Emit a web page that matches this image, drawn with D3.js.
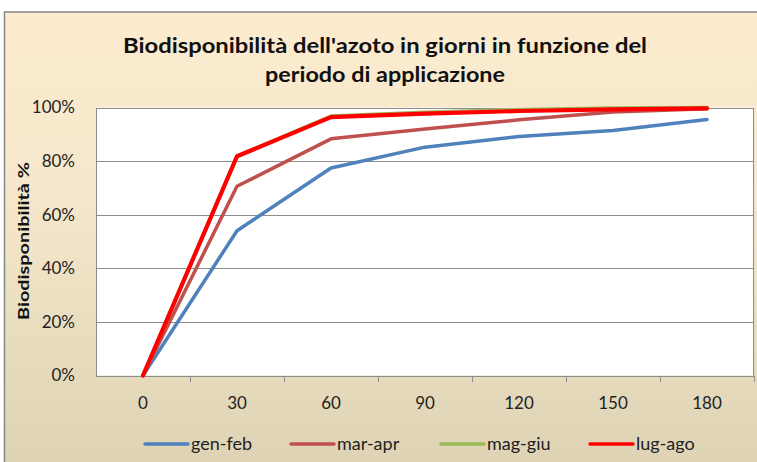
<!DOCTYPE html>
<html><head><meta charset="utf-8">
<script src="https://cdn.jsdelivr.net/npm/d3@7"></script>
<style>body{margin:0;background:#fff}svg{display:block}</style>
</head><body>
<script>
const categories = ["0","30","60","90","120","150","180"];
const genFeb = [0, 54, 77.4, 85.2, 89.2, 91.4, 95.5];
const marApr = [0, 70.6, 88.3, 92, 95.4, 98.3, 99.5];
const magGiu = [0, 81.8, 96.8, 98.2, 99.3, 99.8, 100];
const lugAgo = [0, 81.8, 96.4, 97.7, 98.7, 99.3, 99.7];
const seriesNames = ["gen-feb","mar-apr","mag-giu","lug-ago"];
const yTicks = [0,20,40,60,80,100];
const titleLines = ["Biodisponibilità dell'azoto in giorni in funzione del","periodo di applicazione"];
const yTitle = "Biodisponibilità %";

const series = [
  {name: seriesNames[0], values: genFeb, color: "#4F81BD", w: 3.5},
  {name: seriesNames[1], values: marApr, color: "#C0504D", w: 3.5},
  {name: seriesNames[2], values: magGiu, color: "#9BBB59", w: 3.5},
  {name: seriesNames[3], values: lugAgo, color: "#FF0000", w: 4.2}
];

const W = 757, H = 462;
const svg = d3.select("body").append("svg").attr("width", W).attr("height", H);
const defs = svg.append("defs");
const g = defs.append("linearGradient").attr("id","bg").attr("x1",0).attr("y1",0).attr("x2",0).attr("y2",1);
g.append("stop").attr("offset","0%").attr("stop-color","#FCEBCF");
g.append("stop").attr("offset","35%").attr("stop-color","#F6E8CC");
g.append("stop").attr("offset","100%").attr("stop-color","#DCD2B3");

svg.append("rect").attr("x",4.5).attr("y",12).attr("width",W+10).attr("height",H+10)
  .attr("fill","url(#bg)").attr("stroke","#868686").attr("stroke-width",1.5);

const font = "Lato, 'Open Sans', sans-serif";
const L = 96, R = 754, T = 107.5, B = 375.5;
const x = d3.scaleBand().domain(categories).range([L, R]);
const y = d3.scaleLinear().domain([0,100]).range([B, T]);

svg.append("rect").attr("x",L).attr("y",T).attr("width",R-L).attr("height",B-T).attr("fill","#fff");

// gridlines
svg.append("g").selectAll("line").data(yTicks).join("line")
  .attr("x1",L).attr("x2",R).attr("y1",d=>Math.round(y(d))+0.5).attr("y2",d=>Math.round(y(d))+0.5)
  .attr("stroke","#8C8C8C").attr("stroke-width",1);
// plot border
svg.append("rect").attr("x",L+0.5).attr("y",Math.round(T)+0.5).attr("width",R-L-1).attr("height",Math.round(B)-Math.round(T))
  .attr("fill","none").attr("stroke","#8C8C8C").attr("stroke-width",1);

// x axis
const xAxis = d3.axisBottom(x).tickSize(0).tickPadding(21);
const xg = svg.append("g").attr("transform",`translate(0,${Math.round(B)})`).call(xAxis);
xg.select(".domain").remove();
xg.selectAll("text").attr("font-family",font).attr("font-size",17).attr("fill","#222");
// band boundary ticks
const bounds = categories.map(c => x(c) + x.bandwidth());
svg.append("g").selectAll("line").data(bounds).join("line")
  .attr("x1",d=>Math.round(d)+0.5).attr("x2",d=>Math.round(d)+0.5)
  .attr("y1",Math.round(B)).attr("y2",Math.round(B)+6)
  .attr("stroke","#8C8C8C");

// y axis labels
const yAxis = d3.axisLeft(y).tickValues(yTicks).tickFormat(d=>d+"%").tickSize(0).tickPadding(21);
const yg = svg.append("g").attr("transform",`translate(${L},0)`).call(yAxis);
yg.select(".domain").remove();
yg.selectAll("text").attr("font-family",font).attr("font-size",17).attr("fill","#222");

// lines
const line = d3.line().x((d,i)=>x(categories[i]) + x.bandwidth()/2).y(d=>y(d));
svg.append("g").selectAll("path").data(series).join("path")
  .attr("d", s => line(s.values))
  .attr("fill","none").attr("stroke", s=>s.color).attr("stroke-width", s=>s.w)
  .attr("stroke-linejoin","round").attr("stroke-linecap","round");

// title
const titleW = [524, 240];
svg.append("g").selectAll("text").data(titleLines).join("text")
  .attr("x",385).attr("y",(d,i)=>53 + i*29)
  .attr("text-anchor","middle").attr("font-family",font).attr("font-size",21).attr("font-weight",700)
  .attr("textLength",(d,i)=>titleW[i]).attr("lengthAdjust","spacingAndGlyphs")
  .attr("fill","#111").text(d=>d);

// y title
svg.append("text").attr("transform","translate(29,241) rotate(-90)")
  .attr("text-anchor","middle").attr("font-family",font).attr("font-size",16).attr("font-weight",700)
  .attr("textLength",158).attr("lengthAdjust","spacingAndGlyphs")
  .attr("fill","#111").text(yTitle);

// legend
const legX = [145, 291, 441, 590];
const leg = svg.append("g").selectAll("g").data(series).join("g")
  .attr("transform",(d,i)=>`translate(${legX[i]},444)`);
leg.append("line").attr("x1",0).attr("x2",43).attr("y1",0).attr("y2",0)
  .attr("stroke",d=>d.color).attr("stroke-width",3.5).attr("stroke-linecap","round");
leg.append("text").attr("x",46).attr("y",6).attr("font-family",font).attr("font-size",18)
  .attr("fill","#222").text(d=>d.name);
</script>
</body></html>
